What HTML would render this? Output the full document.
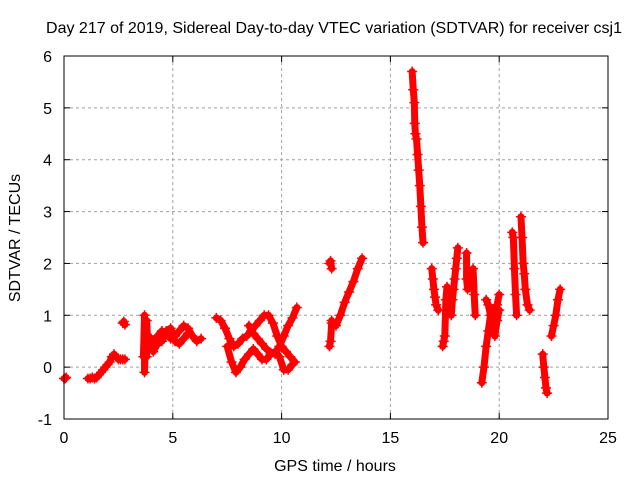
<!DOCTYPE html>
<html><head><meta charset="utf-8"><style>
body{margin:0;background:#fff;}
svg text{font-family:"Liberation Sans",sans-serif;font-size:16px;fill:#000;}
</style></head><body>
<svg id="chart" width="640" height="480" xmlns="http://www.w3.org/2000/svg">
<rect width="640" height="480" fill="#fff"/>
<g id="grid"></g><g id="marks"></g><g id="axes"></g>
</svg>
<script>
const xTicks=[0,5,10,15,20,25];
const yTicks=[-1,0,1,2,3,4,5,6];
// each track: [times], [values] (SDTVAR in TECU)
const trackTimes=[
[0,0.05,0.1],
[1.1,1.2,1.3,1.4,1.5,1.6,1.7,1.8,1.9,2.0,2.1,2.2,2.3,2.4,2.5,2.6,2.7,2.8],
[2.7,2.75,2.8],
[3.65,3.7,3.7,3.75,3.8,3.8,3.85,3.9],
[3.9,4.1,4.3,4.5,4.7,4.9,5.1,5.3,5.5,5.7,5.9,6.1,6.3],
[3.9,4.1,4.3,4.5,4.7,4.9,5.1,5.3,5.5,5.7],
[7.0,7.2,7.4,7.6,7.8,8.0,8.2,8.4,8.6,8.8,9.0,9.2,9.4,9.6,9.8,10.0,10.2,10.4,10.6],
[7.5,7.7,7.9,8.1,8.3,8.5,8.7,8.9,9.1,9.3,9.5,9.7,9.9,10.1,10.3,10.5,10.6],
[8.5,8.7,8.9,9.1,9.3,9.5,9.7,9.9,10.1,10.3,10.5,10.7],
[12.2,12.25,12.3],
[12.2,12.25,12.3,12.3],
[12.5,12.7,12.9,13.1,13.3,13.5,13.7],
[16.0,16.05,16.1,16.12,16.15,16.2,16.25,16.3,16.35,16.4,16.45,16.5],
[16.9,16.95,17.0,17.05,17.1,17.2],
[17.4,17.45,17.5,17.55,17.6],
[17.8,17.85,17.9,17.95,18.0,18.05,18.1],
[18.5,18.5,18.55,18.8,18.85,18.9],
[19.2,19.3,19.4,19.5,19.6,19.7,19.8,19.9,20.0],
[19.4,19.5,19.6,19.7,19.8,19.9,20.0],
[20.6,20.65,20.7,20.75,20.8],
[21.0,21.05,21.1,21.15,21.2,21.3,21.4],
[22.0,22.05,22.1,22.15,22.2],
[22.4,22.5,22.6,22.7,22.8]
];
const trackValues=[
[-0.22,-0.22,-0.2],
[-0.22,-0.22,-0.2,-0.22,-0.2,-0.15,-0.1,-0.05,0.0,0.05,0.1,0.2,0.25,0.2,0.15,0.15,0.15,0.15],
[0.85,0.88,0.82],
[0.2,1.0,-0.1,0.6,0.2,0.9,0.4,0.5],
[0.4,0.5,0.6,0.7,0.65,0.55,0.6,0.7,0.8,0.75,0.6,0.5,0.55],
[0.6,0.3,0.45,0.5,0.7,0.75,0.5,0.45,0.55,0.65],
[0.95,0.9,0.75,0.55,0.4,0.45,0.55,0.6,0.7,0.8,0.9,1.0,1.0,0.85,0.6,0.4,0.3,0.2,0.1],
[0.4,0.1,-0.1,0.0,0.15,0.25,0.35,0.25,0.15,0.15,0.25,0.3,0.2,-0.05,-0.05,0.05,0.1],
[0.8,0.65,0.55,0.45,0.35,0.28,0.25,0.4,0.6,0.8,0.95,1.15],
[2.0,2.05,1.9],
[0.4,0.5,0.85,0.9],
[0.8,1.0,1.25,1.45,1.65,1.9,2.1],
[5.7,5.35,5.1,4.7,4.5,4.4,4.1,3.8,3.5,3.1,2.7,2.4],
[1.9,1.7,1.5,1.35,1.2,1.1],
[0.4,0.5,0.6,1.3,1.55],
[1.0,1.3,1.5,1.7,1.9,2.1,2.3],
[2.2,1.7,1.5,1.9,1.4,1.0],
[-0.3,0.0,0.4,0.7,1.0,1.1,0.9,1.2,1.4],
[1.3,1.2,1.0,0.8,0.6,0.9,1.1],
[2.6,2.5,1.9,1.4,1.0],
[2.9,2.5,2.0,1.8,1.5,1.2,1.1],
[0.25,0.0,-0.2,-0.4,-0.5],
[0.6,0.8,1.0,1.3,1.5]
];
const X0=64,X1=608,Y0=419,Y1=56;
const xs=t=>X0+(t-0)/25*(X1-X0);
const ys=v=>Y0-(v+1)/7*(Y0-Y1);
const NS="http://www.w3.org/2000/svg";
function mk(tag,attrs,parent){const e=document.createElementNS(NS,tag);for(const k in attrs)e.setAttribute(k,attrs[k]);parent.appendChild(e);return e;}
const grid=document.getElementById('grid'),axes=document.getElementById('axes'),marks=document.getElementById('marks');
xTicks.forEach(t=>{
 if(t>0&&t<25){const l=mk('line',{x1:xs(t),x2:xs(t),y1:Y0,y2:Y1,stroke:'#a0a0a0','stroke-dasharray':'3,3'},grid);
 
 }
 const tx=mk('text',{x:xs(t),y:Y0+24,'text-anchor':'middle'},axes);tx.textContent=t;
 
 
 mk('line',{x1:xs(t),x2:xs(t),y1:Y0,y2:Y0-6,stroke:'#000'},axes);
 mk('line',{x1:xs(t),x2:xs(t),y1:Y1,y2:Y1+6,stroke:'#000'},axes);
});
yTicks.forEach(v=>{
 if(v>-1&&v<6){const l=mk('line',{x1:X0,x2:X1,y1:ys(v),y2:ys(v),stroke:'#a0a0a0','stroke-dasharray':'3,3'},grid);
 
 }
 const tx=mk('text',{x:X0-12,y:ys(v)+6,'text-anchor':'end'},axes);tx.textContent=v;
 
 
 mk('line',{x1:X0,x2:X0+6,y1:ys(v),y2:ys(v),stroke:'#000'},axes);
 mk('line',{x1:X1,x2:X1-6,y1:ys(v),y2:ys(v),stroke:'#000'},axes);
});
const fr=mk('rect',{x:X0,y:Y1,width:X1-X0,height:Y0-Y1,fill:'none',stroke:'#000'},axes);


trackTimes.forEach((ts,i)=>{
 const vs=trackValues[i];
 const pts=ts.map((t,j)=>xs(t)+','+ys(vs[j])).join(' ');
 const pl=mk('polyline',{points:pts,fill:'none',stroke:'#ff0000','stroke-width':7,'stroke-linejoin':'round','stroke-linecap':'round'},marks);
 
 
 ts.forEach((t,j)=>{
  const x=xs(t),y=ys(vs[j]);
  const p=mk('path',{d:`M${x-5},${y}H${x+5}M${x},${y-5}V${y+5}`,stroke:'#ff0000','stroke-width':1.5},marks);
  
  
 });
});
const title=mk('text',{x:334,y:33,'text-anchor':'middle'},axes);title.textContent='Day 217 of 2019, Sidereal Day-to-day VTEC variation (SDTVAR) for receiver csj1';


const xt=mk('text',{x:335,y:471,'text-anchor':'middle'},axes);xt.textContent='GPS time / hours';


const yt=mk('text',{x:20,y:238,'text-anchor':'middle',transform:'rotate(-90 20 238)'},axes);yt.textContent='SDTVAR / TECUs';


</script>
</body></html>
